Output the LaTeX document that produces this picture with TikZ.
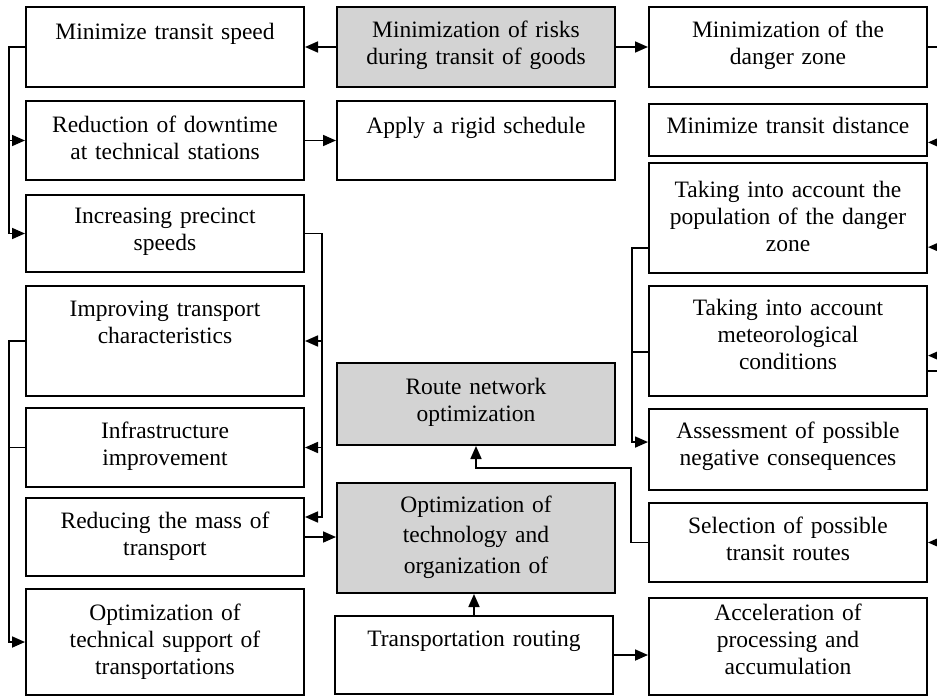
\documentclass[tikz,border=0pt]{standalone}
\usepackage{fontspec}
\setmainfont{Liberation Serif}
\usetikzlibrary{arrows.meta,calc,fit}
\definecolor{boxgray}{HTML}{D3D3D3}
\begin{document}
\begin{tikzpicture}[x=1pt,y=-1pt,
  boxst/.style={draw=black, line width=2pt, inner sep=0pt},
  grayst/.style={boxst, fill=boxgray},
  txt/.style={anchor=base, inner sep=0pt, text width=276pt, align=center, text=black, font=\fontsize{23.5}{27}\selectfont},
  con/.style={line width=1.7pt, draw=black},
  arr/.style={con, -{Triangle[length=13pt,width=11pt]}},
]
\useasboundingbox (0,0) rectangle (937,697);
% left column
\node[boxst, fit={(26,7) (304,87)}] (b1) {};
\node[boxst, fit={(26,101) (304,180)}] (b2) {};
\node[boxst, fit={(26,195) (304,272)}] (b3) {};
\node[boxst, fit={(26,286) (304,396)}] (b4) {};
\node[boxst, fit={(26,408) (304,487)}] (b5) {};
\node[boxst, fit={(26,498) (304,576)}] (b6) {};
\node[boxst, fit={(26,589) (304,695)}] (b7) {};
\node[txt] (b1t) at (165,39) {Minimize transit speed};
\node[txt] (b2t) at (165,132) {Reduction of downtime\\at technical stations};
\node[txt] (b3t) at (165,223) {Increasing precinct\\speeds};
\node[txt] (b4t) at (165,316) {Improving transport\\characteristics};
\node[txt] (b5t) at (165,438) {Infrastructure\\improvement};
\node[txt] (b6t) at (165,528) {Reducing the mass of\\transport};
\node[txt] (b7t) at (165,620) {Optimization of\\technical support of\\transportations};
% center column
\node[grayst, fit={(337,7) (615,87)}] (risks) {};
\node[boxst, fit={(337,101) (615,180)}] (apply) {};
\node[grayst, fit={(337,363) (615,445)}] (route) {};
\node[grayst, fit={(337,483) (615,593)}] (opt) {};
\node[boxst, fit={(335,616) (613,694)}] (trans) {};
\node[txt] (riskst) at (476,37) {Minimization of risks\\during transit of goods};
\node[txt] (applyt) at (476,133) {Apply a rigid schedule};
\node[txt] (routet) at (476,394) {Route network\\optimization};
\node[txt, font=\fontsize{23.5}{30.5}\selectfont] (optt) at (476,512) {Optimization of\\technology and\\organization of};
\node[txt] (transt) at (474,646) {Transportation routing};
% right column
\node[boxst, fit={(649,7) (927,87)}] (danger) {};
\node[boxst, fit={(649,104) (927,156)}] (dist) {};
\node[boxst, fit={(649,163) (927,273)}] (pop) {};
\node[boxst, fit={(649,286) (927,396)}] (meteo) {};
\node[boxst, fit={(649,409) (927,490)}] (assess) {};
\node[boxst, fit={(649,503) (927,582)}] (sel) {};
\node[boxst, fit={(649,598) (927,695)}] (accel) {};
\node[txt] (dangert) at (788,37) {Minimization of the\\danger zone};
\node[txt] (distt) at (788,133) {Minimize transit distance};
\node[txt] (popt) at (788,197) {Taking into account the\\population of the danger\\zone};
\node[txt] (meteot) at (788,315) {Taking into account\\meteorological\\conditions};
\node[txt] (assesst) at (788,438) {Assessment of possible\\negative consequences};
\node[txt] (selt) at (788,533) {Selection of possible\\transit routes};
\node[txt] (accelt) at (788,620) {Acceleration of\\processing and\\accumulation};
% helper coordinates
\coordinate (LA) at (9,0);
\coordinate (RA) at (322,0);
\coordinate (RB) at (631,468);
\coordinate (RC) at (632,0);
\coordinate (EE) at (937,0);
\coordinate (b6in) at ($(b6.north east)!0.25!(b6.south east)$);
\coordinate (popout) at ($(pop.north west)!0.77!(pop.south west)$);
\coordinate (meteoout) at ($(meteo.north west)!0.6!(meteo.south west)$);
\coordinate (assin) at ($(assess.north west)!0.41!(assess.south west)$);
\coordinate (distin) at ($(dist.north east)!0.73!(dist.south east)$);
\coordinate (popin) at ($(pop.north east)!0.76!(pop.south east)$);
\coordinate (meteoin) at ($(meteo.north east)!0.63!(meteo.south east)$);
\coordinate (meteoline) at ($(meteo.north east)!0.77!(meteo.south east)$);
% connectors
\draw[arr] (risks.west) -- (b1.east);
\draw[arr] (risks.east) -- (danger.west);
\draw[arr] (b1.west) -| (LA |- b3.west) -- (b3.west);
\draw[arr] (LA |- b2.west) -- (b2.west);
\draw[arr] (b2.east) -- (b2.east -| apply.west);
\draw[arr] (b3.east) -| (RA |- b6in) -- (b6in);
\draw[arr] (RA |- b4.east) -- (b4.east);
\draw[arr] (RA |- b5.east) -- (b5.east);
\draw[arr] (b4.west) -| (LA |- b7.west) -- (b7.west);
\draw[con] (b5.west) -- (LA |- b5.west);
\draw[arr] (b6.east) -- (b6.east -| opt.west);
\draw[arr] (trans.north) -- (trans.north |- opt.south);
\draw[arr] (trans.east) -- (trans.east -| accel.west);
\draw[arr] (sel.west) -| (RB) -| (route.south);
\draw[arr] (popout) -| (RC |- assin) -- (assin);
\draw[con] (meteoout) -- (RC |- meteoout);
\draw[con] (danger.east) -- (EE |- danger.east);
\draw[arr] (EE |- distin) -- (distin);
\draw[arr] (EE |- popin) -- (popin);
\draw[arr] (EE |- meteoin) -- (meteoin);
\draw[con] (meteoline) -- (EE |- meteoline);
\draw[arr] (EE |- sel.east) -- (sel.east);
\end{tikzpicture}
\end{document}
